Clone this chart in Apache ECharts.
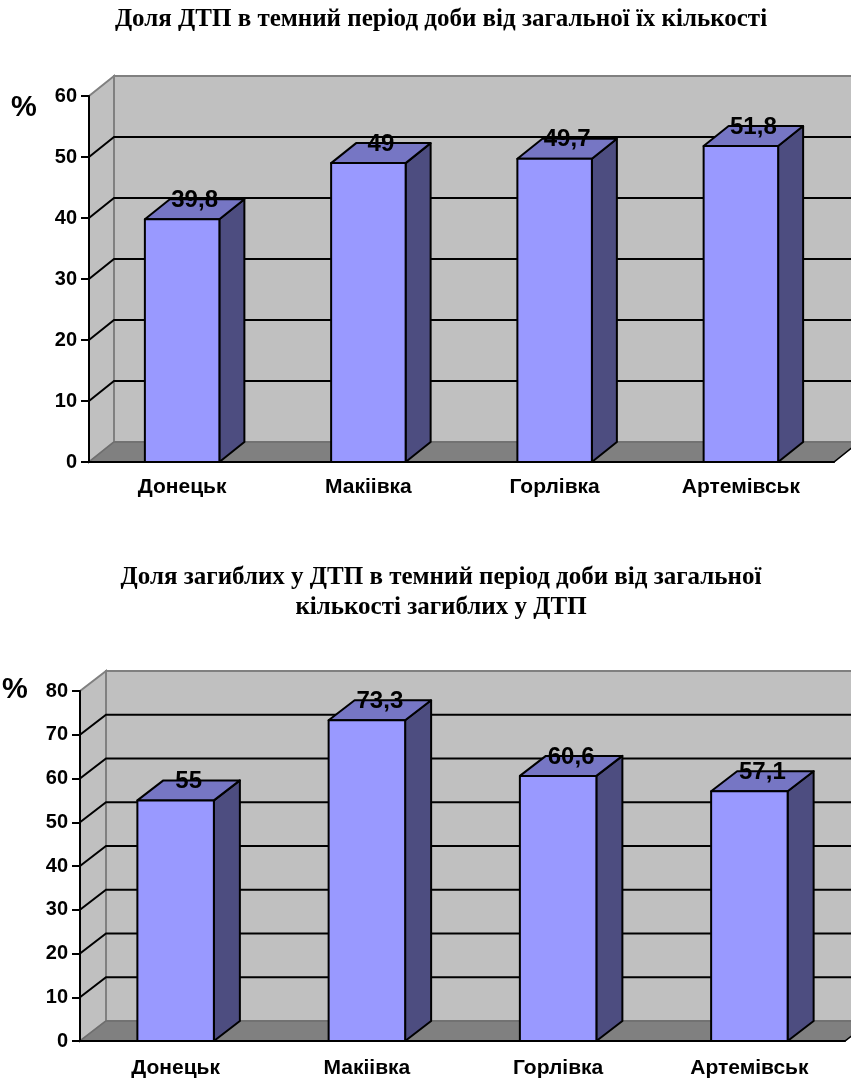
<!DOCTYPE html>
<html lang="uk">
<head>
    <meta charset="UTF-8">
    <title>ДТП в темний період доби</title>
    <script src="https://cdn.jsdelivr.net/npm/echarts@6/dist/echarts.min.js"></script>
    <style>
        body { margin: 0; background: #fff; }
    </style>
</head>
<body>
    <div id="ec" style="width:851px;height:1079px"></div>
</body>
<script>
    // дані
    var cities = ['Донецьк', 'Макіівка', 'Горлівка', 'Артемівськ']
    var darkShare = [39.8, 49, 49.7, 51.8]
    var deathShare = [55, 73.3, 60.6, 57.1]
    var ticks1 = [0, 10, 20, 30, 40, 50, 60]
    var ticks2 = [0, 10, 20, 30, 40, 50, 60, 70, 80]

    var title1 = 'Доля ДТП в темний період доби від загальної їх кількості'
    var title2 = 'Доля загиблих у ДТП в темний період доби від загальної\nкількості загиблих у ДТП'

    var sans = '"Liberation Sans", Arial, sans-serif'
    var serif = '"Liberation Serif", "Times New Roman", serif'

    function comma(v) {
        return String(v).replace('.', ',')
    }

    // стінки, підлога і лінії сітки в 3D
    function frame(dx, dy, ticks) {
        return function (params, api) {
            var n = cities.length
            var bw = api.size([1, 0])[0]
            var a = api.coord([0, 0])
            var xL = a[0] - bw / 2
            var xR = api.coord([n - 1, 0])[0] + bw / 2
            var y0 = a[1]
            var top = ticks[ticks.length - 1]
            var yT = api.coord([0, top])[1]
            var wall = { fill: '#c0c0c0', stroke: '#808080', lineWidth: 2 }
            var kids = [
                { type: 'polygon', shape: { points: [[xL + dx, yT + dy], [xR + dx, yT + dy], [xR + dx, y0 + dy], [xL + dx, y0 + dy]] }, style: wall },
                { type: 'polygon', shape: { points: [[xL, yT], [xL + dx, yT + dy], [xL + dx, y0 + dy], [xL, y0]] }, style: wall },
                { type: 'polygon', shape: { points: [[xL, y0], [xR, y0], [xR + dx, y0 + dy], [xL + dx, y0 + dy]] },
                  style: { fill: '#808080', stroke: '#6e6e6e', lineWidth: 1.5 } },
                { type: 'line', shape: { x1: xR, y1: y0, x2: xR + dx, y2: y0 + dy }, style: { stroke: '#000', lineWidth: 1.5 } }
            ]
            ticks.forEach(function (t) {
                if (t <= 0 || t >= top) return
                var y = api.coord([0, t])[1]
                kids.push({ type: 'polyline', shape: { points: [[xL, y], [xL + dx, y + dy], [xR + dx, y + dy]] },
                    style: { stroke: '#000', lineWidth: 2, fill: null } })
            })
            return { type: 'group', children: kids }
        }
    }

    // стовпчик-паралелепіпед
    function bar3d(dx, dy) {
        return function (params, api) {
            var i = api.value(0)
            var v = api.value(1)
            var bw = api.size([1, 0])[0] * 0.4
            var b = api.coord([i, 0])
            var t = api.coord([i, v])
            var x0 = b[0] - bw / 2, x1 = b[0] + bw / 2
            var yb = b[1], yt = t[1]
            var edge = { stroke: '#000', lineWidth: 2, lineJoin: 'round' }
            return {
                type: 'group',
                children: [
                    { type: 'polygon', shape: { points: [[x1, yt], [x1 + dx, yt + dy], [x1 + dx, yb + dy], [x1, yb]] },
                      style: Object.assign({ fill: '#4d4d80' }, edge) },
                    { type: 'polygon', shape: { points: [[x0, yt], [x1, yt], [x1 + dx, yt + dy], [x0 + dx, yt + dy]] },
                      style: Object.assign({ fill: '#7676c4' }, edge) },
                    { type: 'rect', shape: { x: x0, y: yt, width: bw, height: yb - yt },
                      style: Object.assign({ fill: '#9999ff' }, edge) },
                    { type: 'text', x: b[0] + dx / 2, y: yt + dy + 1,
                      style: { text: comma(v), fill: '#000', font: 'bold 24px ' + sans, align: 'center', verticalAlign: 'middle' } }
                ]
            }
        }
    }

    function catAxis(gi, margin) {
        return {
            type: 'category', gridIndex: gi, data: cities, z: 10,
            axisLine: { lineStyle: { color: '#000', width: 2 } },
            axisTick: { length: 7, lineStyle: { color: '#000', width: 2 } },
            axisLabel: { color: '#000', fontFamily: sans, fontWeight: 'bold', fontSize: 21, margin: margin }
        }
    }

    function valAxis(gi, ticks) {
        return {
            type: 'value', gridIndex: gi, min: 0, max: ticks[ticks.length - 1], interval: 10, z: 10,
            axisLine: { show: true, lineStyle: { color: '#000', width: 2 } },
            axisTick: { show: true, length: 8, lineStyle: { color: '#000', width: 2 } },
            axisLabel: { color: '#000', fontFamily: sans, fontWeight: 'bold', fontSize: 20, margin: 12 },
            splitLine: { show: false }
        }
    }

    var mychart = echarts.init(document.getElementById('ec'))
    var options = {
        animation: false,
        grid: [
            { left: 89, top: 96, width: 745, height: 366 },
            { left: 80, top: 691, width: 765, height: 351 }
        ],
        xAxis: [catAxis(0, 15), catAxis(1, 17)],
        yAxis: [valAxis(0, ticks1), valAxis(1, ticks2)],
        graphic: [
            { type: 'text', x: 441, y: 20, style: { text: title1, font: 'bold 25px ' + serif, fill: '#000', align: 'center', verticalAlign: 'middle' } },
            { type: 'text', x: 441, y: 593, style: { text: title2, font: 'bold 25px ' + serif, fill: '#000', align: 'center', verticalAlign: 'middle', lineHeight: 30 } },
            { type: 'text', x: 24, y: 108, style: { text: '%', font: 'bold 29px ' + sans, fill: '#000', align: 'center', verticalAlign: 'middle' } },
            { type: 'text', x: 15, y: 690, style: { text: '%', font: 'bold 29px ' + sans, fill: '#000', align: 'center', verticalAlign: 'middle' } }
        ],
        series: [
            { type: 'custom', xAxisIndex: 0, yAxisIndex: 0, z: 1, silent: true, renderItem: frame(25, -20, ticks1), data: [[0, 0]] },
            { type: 'custom', xAxisIndex: 0, yAxisIndex: 0, z: 2, renderItem: bar3d(25, -20),
              data: darkShare.map(function (v, i) { return [i, v] }) },
            { type: 'custom', xAxisIndex: 1, yAxisIndex: 1, z: 1, silent: true, renderItem: frame(26, -20, ticks2), data: [[0, 0]] },
            { type: 'custom', xAxisIndex: 1, yAxisIndex: 1, z: 2, renderItem: bar3d(26, -20),
              data: deathShare.map(function (v, i) { return [i, v] }) }
        ]
    }
    mychart.setOption(options)
</script>
</html>
